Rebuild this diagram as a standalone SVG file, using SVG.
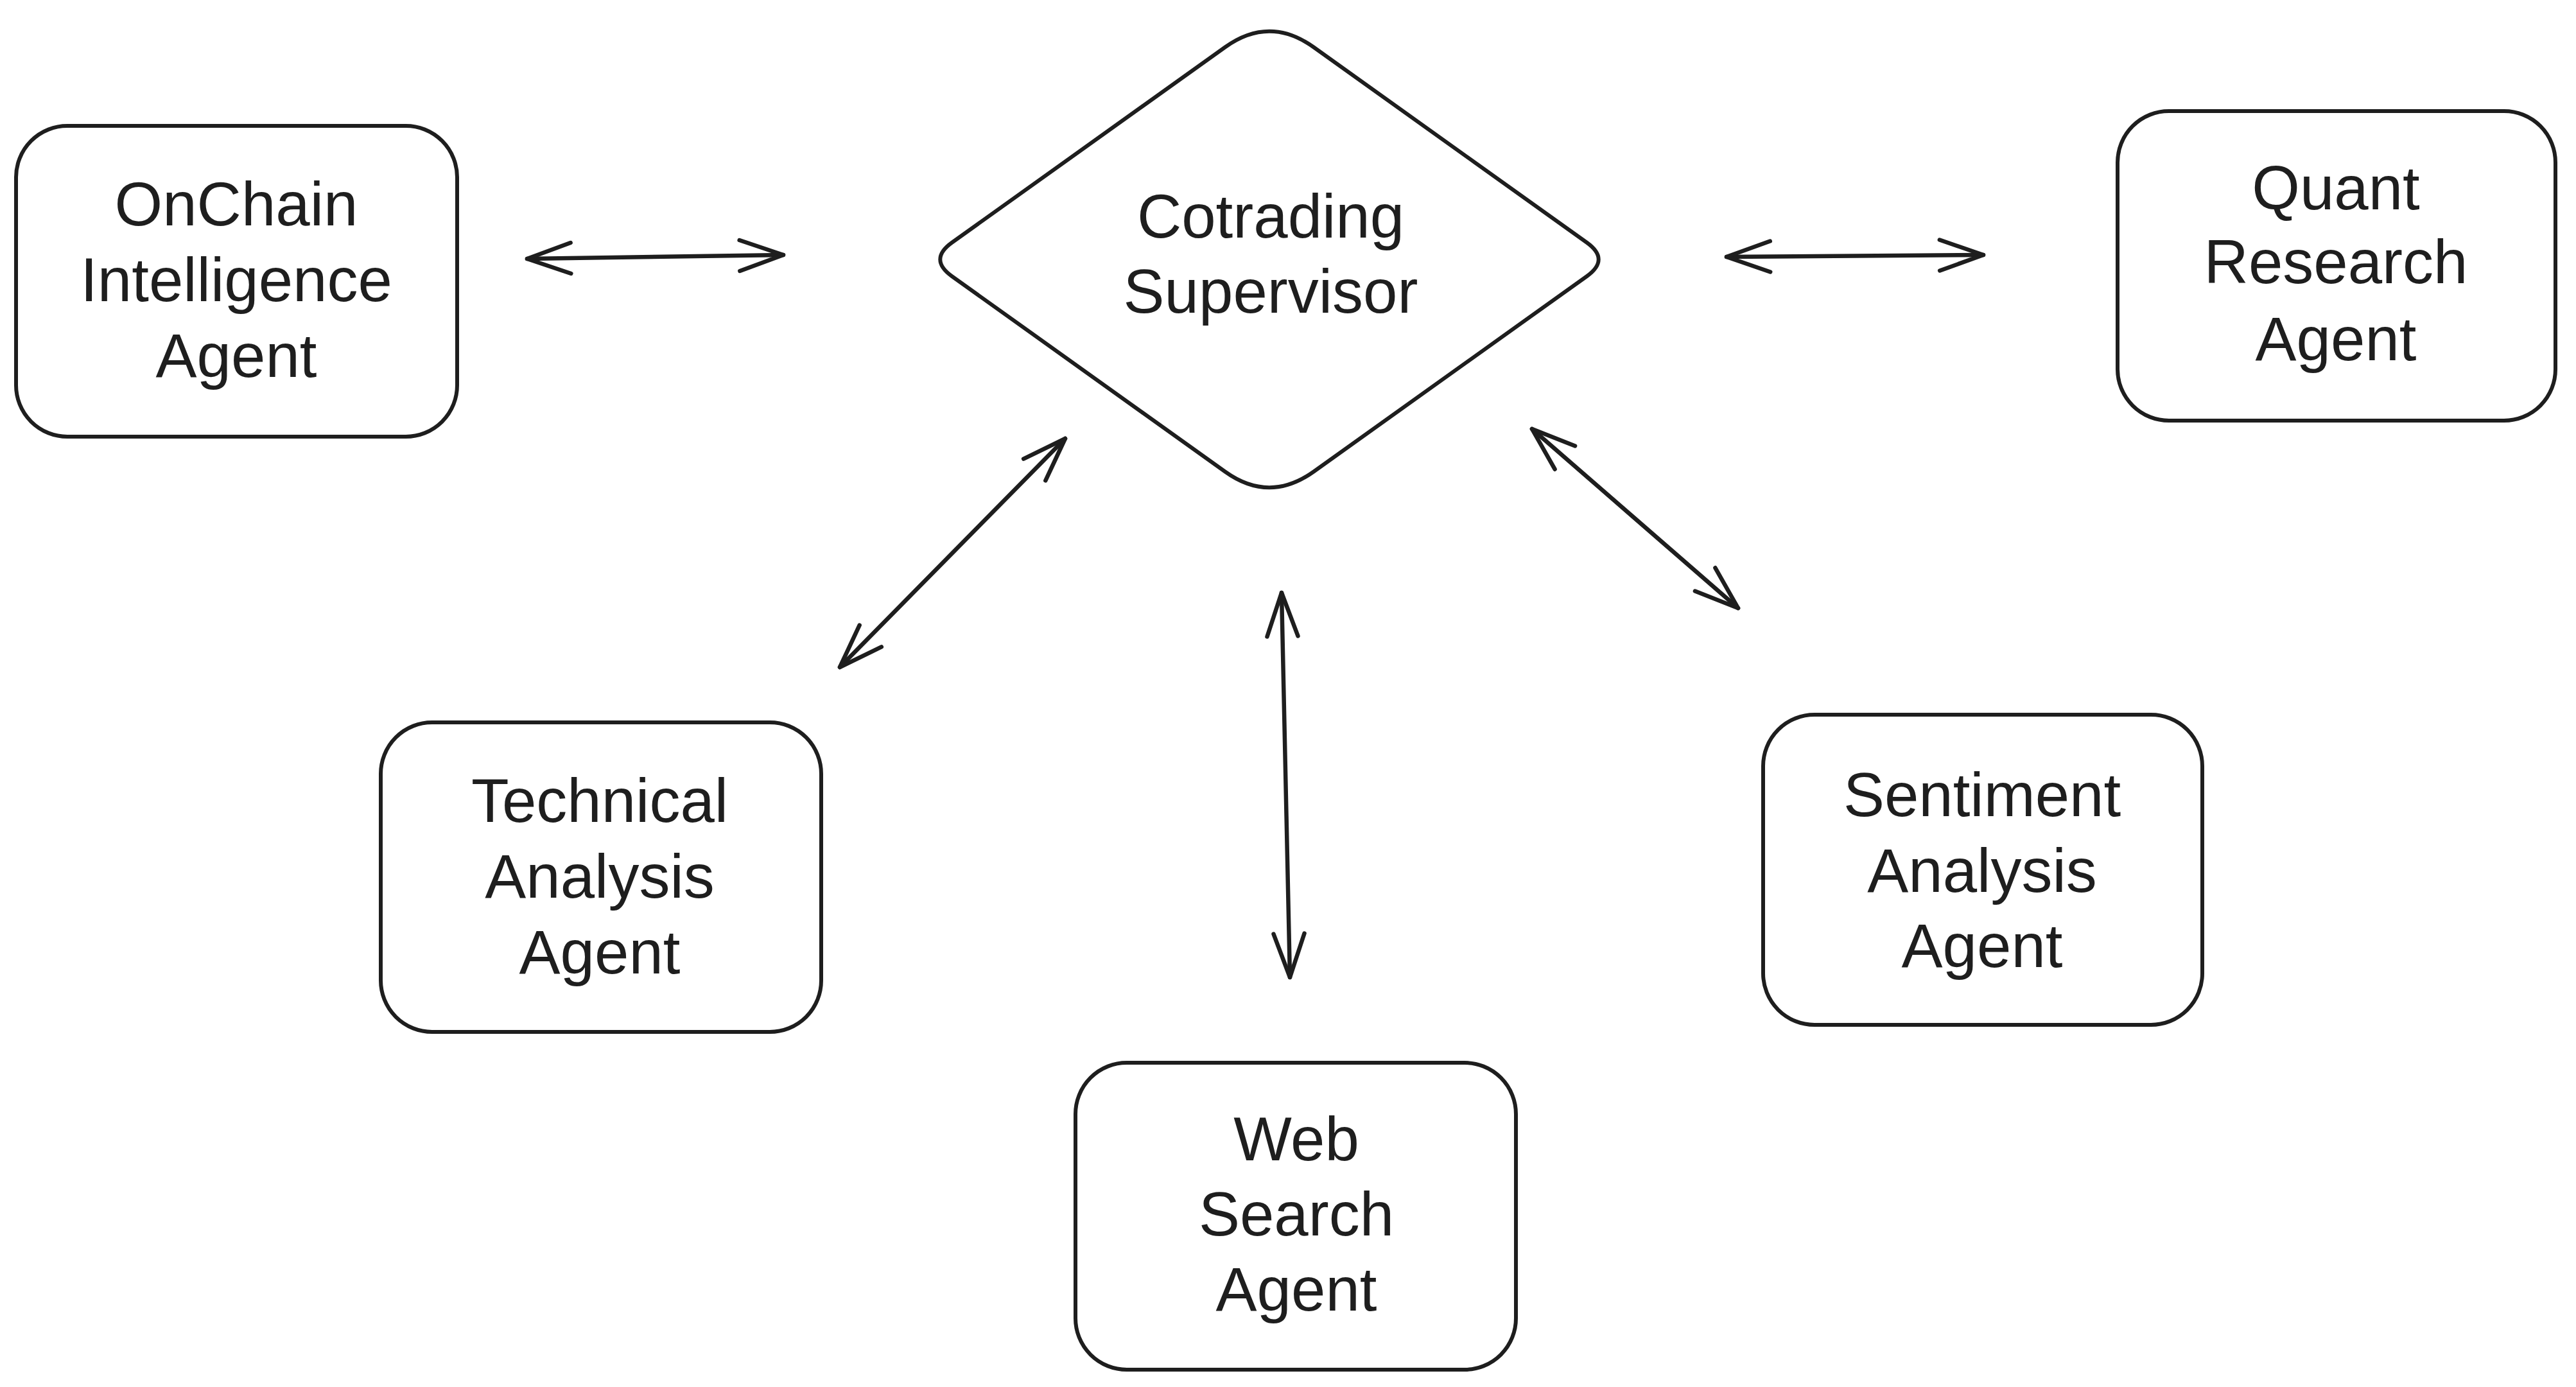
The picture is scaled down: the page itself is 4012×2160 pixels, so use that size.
<svg xmlns="http://www.w3.org/2000/svg" width="4012" height="2160" viewBox="0 0 4012 2160">
<style>
.node{fill:#ffffff;stroke:#1e1e1e;stroke-width:6;stroke-linejoin:round}
.lbl{font-family:"Liberation Sans",Arial,sans-serif;font-size:96px;fill:#1e1e1e;text-anchor:middle}
.conn{fill:none;stroke:#1e1e1e;stroke-width:6.5;stroke-linecap:round;marker-start:url(#head);marker-end:url(#head)}
</style>
<defs>
<marker id="head" markerUnits="userSpaceOnUse" viewBox="-80 -40 90 80" refX="0" refY="0" markerWidth="90" markerHeight="80" orient="auto-start-reverse" overflow="visible">
<path d="M -68 -24 L 0 0 L -68 24" fill="none" stroke="#1e1e1e" stroke-width="6.5" stroke-linecap="round" stroke-linejoin="round"/>
</marker>
</defs>
<rect width="4012" height="2160" fill="#ffffff"/>
<g id="connectors">
<path class="conn" d="M 821 403 L 1220 397"/>
<path class="conn" d="M 2689 400 L 3089 397"/>
<path class="conn" d="M 1308 1039 L 1659 683"/>
<path class="conn" d="M 1996 923 L 2009 1522"/>
<path class="conn" d="M 2386 668 L 2707 947"/>
</g>
<g id="supervisor">
<path class="node" d="M 1908 73.5 Q 1977 24 2046 73.5 L 2471.4 377.8 Q 2508 404 2471.4 430.2 L 2046 734.5 Q 1977 784 1908 734.5 L 1482.6 430.2 Q 1446 404 1482.6 377.8 Z"/>
<text class="lbl" x="1979" y="370">Cotrading</text>
<text class="lbl" x="1979" y="487">Supervisor</text>
</g>
<g id="onchain">
<rect class="node" x="25" y="196" width="687" height="484" rx="80" ry="80"/>
<text class="lbl" x="368" y="351">OnChain</text>
<text class="lbl" x="368" y="469">Intelligence</text>
<text class="lbl" x="368" y="587">Agent</text>
</g>
<g id="quant">
<rect class="node" x="3298" y="173" width="682" height="482" rx="80" ry="80"/>
<text class="lbl" x="3638" y="326">Quant</text>
<text class="lbl" x="3638" y="441">Research</text>
<text class="lbl" x="3638" y="561">Agent</text>
</g>
<g id="technical">
<rect class="node" x="593" y="1125" width="686" height="482" rx="80" ry="80"/>
<text class="lbl" x="934" y="1280">Technical</text>
<text class="lbl" x="934" y="1398">Analysis</text>
<text class="lbl" x="934" y="1516">Agent</text>
</g>
<g id="websearch">
<rect class="node" x="1675" y="1655" width="686" height="478" rx="80" ry="80"/>
<text class="lbl" x="2019" y="1807">Web</text>
<text class="lbl" x="2019" y="1924">Search</text>
<text class="lbl" x="2019" y="2041">Agent</text>
</g>
<g id="sentiment">
<rect class="node" x="2746" y="1113" width="684" height="483" rx="80" ry="80"/>
<text class="lbl" x="3087" y="1271">Sentiment</text>
<text class="lbl" x="3087" y="1389">Analysis</text>
<text class="lbl" x="3087" y="1506">Agent</text>
</g>
</svg>
